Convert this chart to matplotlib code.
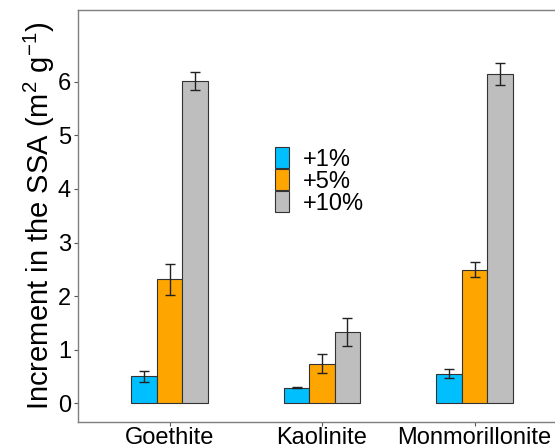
import numpy as np
import matplotlib.pyplot as plt
from matplotlib.patches import Patch

plt.rcParams['font.family'] = ['Liberation Sans', 'DejaVu Sans']
plt.rcParams['mathtext.fontset'] = 'custom'
plt.rcParams['mathtext.rm'] = 'Liberation Sans'
plt.rcParams['mathtext.default'] = 'regular'

# Mean increment in specific surface area and standard errors
minerals = ["Goethite", "Kaolinite", "Monmorillonite"]
levels = ["+1%", "+5%", "+10%"]
ssa_1 = [0.50, 0.29, 0.55]
ssa_5 = [2.31, 0.74, 2.49]
ssa_10 = [6.01, 1.33, 6.15]
err_1 = [0.10, 0.01, 0.08]
err_5 = [0.29, 0.18, 0.14]
err_10 = [0.17, 0.26, 0.21]
colors = ["#00BFFF", "#FFA500", "#BEBEBE"]

W, H = 555, 448
fig = plt.figure(figsize=(W / 100, H / 100), dpi=100)
# panel runs past the right edge of the figure
ax = fig.add_axes([78 / W, (H - 422) / H, 488 / W, 412 / H])

x = np.arange(1, len(minerals) + 1)
width = 0.5 / 3
series = [(ssa_1, err_1), (ssa_5, err_5), (ssa_10, err_10)]
for i, (vals, errs) in enumerate(series):
    pos = x + (i - 1) * width
    ax.bar(pos, vals, width=width, color=colors[i], edgecolor="#333333",
           linewidth=0.8, zorder=2)
    ax.errorbar(pos, vals, yerr=errs, fmt="none", ecolor="#222222",
                elinewidth=1.0, capsize=3.6, capthick=1.0, zorder=3)

ax.set_xlim(0.4, 3.6)
ax.set_ylim(-0.35, 7.34)
ax.set_xticks(x)
ax.set_xticklabels(minerals)
ax.set_yticks(range(0, 7))
ax.tick_params(axis="both", colors="#555555", length=3, width=0.8,
               labelcolor="black", labelsize=17, pad=2)
ax.tick_params(axis="x", pad=0.5)
ax.set_ylabel("Increment in the SSA (m$^{2}$ g$^{-1}$)", fontsize=21)
ax.yaxis.set_label_coords((57 - 78) / 488, 0.5)

for side in ["left", "right", "top", "bottom"]:
    ax.spines[side].set_color("#7f7f7f")
    ax.spines[side].set_linewidth(1.0)

# stacked legend keys touching each other
handles = [Patch(facecolor=c, edgecolor="#333333", linewidth=0.8) for c in colors]
ax.legend(handles, levels, loc="upper left",
          bbox_to_anchor=(275 / W, 1 - 147 / H), bbox_transform=fig.transFigure,
          frameon=False, fontsize=17, handlelength=0.6, handleheight=1.0,
          labelspacing=-0.07, handletextpad=0.6, borderpad=0,
          borderaxespad=0)

fig.savefig("out.png", dpi=100)
